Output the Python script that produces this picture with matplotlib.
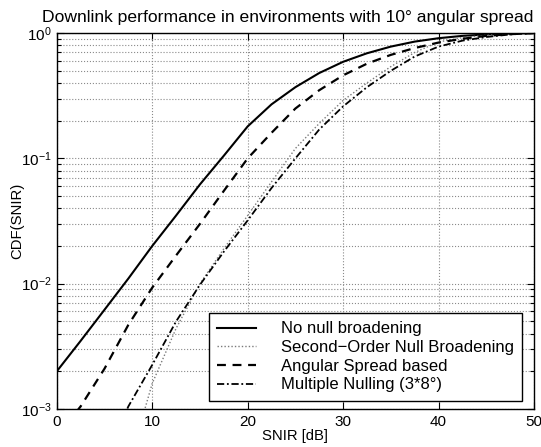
"""Downlink CDF curves for the 10 degree angular spread case."""

import matplotlib
matplotlib.use("Agg")
import matplotlib.pyplot as plt
from matplotlib.ticker import LogLocator, NullFormatter, MultipleLocator

plt.rcParams["font.family"] = ["Liberation Sans", "DejaVu Sans"]
plt.rcParams["mathtext.default"] = "regular"

snir_db = [0, 2.5, 5, 7.5, 10, 12.5, 15, 17.5, 20, 22.5, 25, 27.5, 30,
           32.5, 35, 37.5, 40, 42.5, 45, 47.5, 50]

no_broadening = [2.0e-3, 3.5e-3, 6.2e-3, 1.1e-2, 2.0e-2, 3.5e-2, 6.2e-2, 0.105,
                 0.18, 0.27, 0.37, 0.48, 0.59, 0.69, 0.78, 0.855, 0.91, 0.95,
                 0.975, 0.99, 1.0]
second_order = [1e-5, 4e-5, 1.5e-4, 3.5e-4, 1.6e-3, 4.4e-3, 1.0e-2, 1.9e-2,
                3.5e-2, 6.5e-2, 0.12, 0.19, 0.29, 0.40, 0.54, 0.70, 0.85,
                0.92, 0.96, 0.985, 1.0]
angular_spread = [6e-4, 1.05e-3, 2.1e-3, 4.7e-3, 9.3e-3, 1.68e-2, 3.0e-2, 5.5e-2,
                  0.10, 0.16, 0.25, 0.35, 0.46, 0.57, 0.67, 0.76, 0.84, 0.90,
                  0.95, 0.98, 1.0]
multiple_nulling = [3e-5, 1e-4, 4e-4, 1.05e-3, 2.25e-3, 5.0e-3, 9.8e-3, 1.8e-2,
                    3.2e-2, 5.8e-2, 0.10, 0.17, 0.26, 0.37, 0.50, 0.65, 0.78,
                    0.87, 0.93, 0.975, 1.0]

labels = ["No null broadening", "Second\u2212Order Null Broadening",
          "Angular Spread based", "Multiple Nulling (3*8\u00b0)"]

fig = plt.figure(figsize=(5.41, 4.47), dpi=100)
ax = fig.add_axes([0.105, 0.085, 0.882, 0.841])

ax.plot(snir_db, no_broadening, color="black", lw=1.5, ls="-", label=labels[0])
ax.plot(snir_db, second_order, color="#7a7a7a", lw=1.0, ls=(0, (1, 1.5)),
        label=labels[1])
ax.plot(snir_db, angular_spread, color="black", lw=1.6, ls=(0, (4, 3)),
        label=labels[2])
ax.plot(snir_db, multiple_nulling, color="black", lw=1.3,
        ls=(0, (4, 1.5, 1, 1.5)), label=labels[3])

ax.set_yscale("log")
ax.set_xlim(0, 50)
ax.set_ylim(1e-3, 1)
ax.xaxis.set_major_locator(MultipleLocator(10))
ax.yaxis.set_major_locator(LogLocator(base=10, numticks=10))
ax.yaxis.set_minor_locator(LogLocator(base=10, subs=range(2, 10), numticks=10))
ax.yaxis.set_minor_formatter(NullFormatter())

ax.grid(True, which="major", axis="both", ls=":", color="#8a8a8a", lw=0.8)
ax.grid(True, which="minor", axis="y", ls=":", color="#8a8a8a", lw=0.8)
ax.tick_params(which="both", direction="in", top=True, right=True,
               labelsize=11, width=0.8)
ax.tick_params(which="major", length=5, pad=4)
ax.tick_params(which="minor", length=3)
for spine in ax.spines.values():
    spine.set_linewidth(1.0)

# title sits slightly left of the axes centre in the original
fig.text(0.531, 1 - 22 / 447,
         "Downlink performance in environments with 10\u00b0 angular spread",
         fontsize=12.6, ha="center", va="baseline")
ax.set_xlabel("SNIR [dB]", fontsize=10.7, labelpad=0)
ax.set_ylabel("CDF(SNIR)", fontsize=10.7)
ax.yaxis.set_label_coords(-0.068, 0.5)

leg = ax.legend(loc="lower right", bbox_to_anchor=(0.975, 0.022), fontsize=12,
                frameon=True, fancybox=False, edgecolor="black", framealpha=1,
                handlelength=2.3, handletextpad=1.5, borderpad=0.5,
                labelspacing=0.22, borderaxespad=0)
leg.get_frame().set_linewidth(1.0)

fig.savefig("out.png", dpi=100)
